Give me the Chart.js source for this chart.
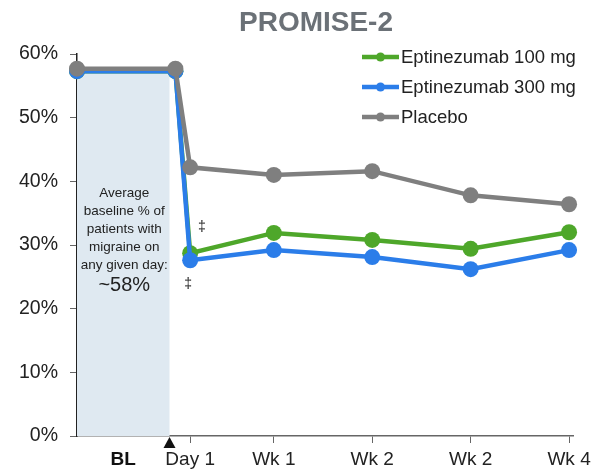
<!DOCTYPE html>
<html>
<head>
<meta charset="utf-8">
<script src="https://cdn.jsdelivr.net/npm/chart.js@4"></script>
<style>
  body { margin: 0; background: #fff; }
  #wrap { width: 603px; height: 471px; }
</style>
</head>
<body>
<div id="wrap"><canvas id="chart" width="603" height="471"></canvas></div>
<script>
// timepoints: two baseline points then the post-dose visits
const timepoints = ['BL', 'BL', 'Day 1', 'Wk 1', 'Wk 2', 'Wk 2', 'Wk 4'];
const xPositions = [0, 1, 1.15, 2, 3, 4, 5];
const eptinezumab100 = [57.3, 57.3, 28.7, 31.9, 30.8, 29.4, 32.0];
const eptinezumab300 = [57.3, 57.3, 27.6, 29.2, 28.1, 26.2, 29.2];
const placebo = [57.7, 57.7, 42.2, 41.0, 41.6, 37.8, 36.4];
const yTicks = [0, 10, 20, 30, 40, 50, 60];
const baselineNote = ['Average', 'baseline % of', 'patients with', 'migraine on', 'any given day:'];
const baselineValue = '~58%';

const FONT = '"Liberation Sans", Arial, sans-serif';
const GREEN = '#4ea72a';
const BLUE = '#2b7de9';
const GRAY = '#7f7f7f';

const toPoints = arr => arr.map((v, i) => ({ x: xPositions[i], y: v }));

// extras: shaded baseline band, notes, markers, title, legend
const extras = {
  id: 'extras',
  beforeDatasetsDraw(chart) {
    const { ctx, scales: { x, y } } = chart;
    const x0 = x.getPixelForValue(0), x1 = x.getPixelForValue(0.94);
    const yTop = y.getPixelForValue(57.3), yBot = y.getPixelForValue(0);
    ctx.save();
    ctx.fillStyle = '#dfe9f1';
    ctx.fillRect(x0, yTop, x1 - x0, yBot - yTop);

    ctx.fillStyle = '#222';
    ctx.textAlign = 'center';
    ctx.textBaseline = 'middle';
    const cx = (x0 + x1) / 2 + 1;
    ctx.font = '13.5px ' + FONT;
    baselineNote.forEach((t, i) => ctx.fillText(t, cx, 193 + i * 18));
    ctx.font = '20px ' + FONT;
    ctx.fillText(baselineValue, cx, 285);
    ctx.restore();
  },
  afterDraw(chart) {
    const { ctx, scales: { x, y } } = chart;
    ctx.save();
    // significance marks
    ctx.fillStyle = '#222';
    ctx.font = '14px ' + FONT;
    ctx.textAlign = 'center';
    ctx.textBaseline = 'middle';
    ctx.fillText('\u2021', x.getPixelForValue(1.27), y.getPixelForValue(32.8));
    ctx.fillText('\u2021', x.getPixelForValue(1.13), y.getPixelForValue(23.8));

    // BL label and dosing triangle
    const yb = y.getPixelForValue(0);
    ctx.font = 'bold 19px ' + FONT;
    ctx.fillStyle = '#111';
    ctx.fillText(timepoints[0], (x.getPixelForValue(0) + x.getPixelForValue(0.94)) / 2, 460);
    const tx = x.getPixelForValue(0.94);
    ctx.beginPath();
    ctx.moveTo(tx, yb + 1);
    ctx.lineTo(tx - 6, yb + 12);
    ctx.lineTo(tx + 6, yb + 12);
    ctx.closePath();
    ctx.fill();

    // title
    ctx.fillStyle = '#6b7177';
    ctx.font = 'bold 28px ' + FONT;
    ctx.fillText('PROMISE-2', 316, 23);

    // legend
    ctx.textAlign = 'left';
    ctx.font = '18.5px ' + FONT;
    chart.data.datasets.forEach((ds, i) => {
      const ly = 57 + i * 30;
      ctx.strokeStyle = ds.borderColor;
      ctx.fillStyle = ds.borderColor;
      ctx.lineWidth = 4.5;
      ctx.beginPath();
      ctx.moveTo(362, ly);
      ctx.lineTo(399, ly);
      ctx.stroke();
      ctx.beginPath();
      ctx.arc(380.5, ly, 4.5, 0, Math.PI * 2);
      ctx.fill();
      ctx.fillStyle = '#222';
      ctx.fillText(ds.label, 401, ly + 1);
    });
    ctx.restore();
  }
};

const makeSet = (label, data, color, order) => ({
  label,
  data: toPoints(data),
  borderColor: color,
  backgroundColor: color,
  borderWidth: 4.5,
  pointRadius: 8,
  pointBorderWidth: 0,
  pointHoverRadius: 8,
  tension: 0,
  clip: false,
  order
});

new Chart(document.getElementById('chart'), {
  type: 'line',
  data: {
    datasets: [
      makeSet('Eptinezumab 100 mg', eptinezumab100, GREEN, 2),
      makeSet('Eptinezumab 300 mg', eptinezumab300, BLUE, 1),
      makeSet('Placebo', placebo, GRAY, 0)
    ]
  },
  options: {
    responsive: false,
    animation: false,
    layout: { padding: { top: 54, right: 30, bottom: 0, left: 0 } },
    plugins: { legend: { display: false }, tooltip: { enabled: false } },
    scales: {
      x: {
        type: 'linear',
        min: 0,
        max: 5.04,
        afterFit(scale) { scale.height = 35; },
        afterBuildTicks(scale) {
          scale.ticks = xPositions.slice(2).map(v => ({ value: v }));
        },
        grid: { drawOnChartArea: false, drawTicks: true, tickLength: 7, color: '#666' },
        border: { color: '#666', width: 1.5 },
        ticks: {
          autoSkip: false,
          maxRotation: 0,
          padding: 5,
          color: '#222',
          font: { family: FONT, size: 19 },
          callback: (v, i) => timepoints[i + 2]
        }
      },
      y: {
        min: 0,
        max: 60,
        afterFit(scale) { scale.width = 77; },
        afterBuildTicks(scale) {
          scale.ticks = yTicks.map(v => ({ value: v }));
        },
        grid: { drawOnChartArea: false, drawTicks: true, tickLength: 7, color: '#666' },
        border: { color: '#222', width: 1.5 },
        ticks: {
          padding: 12,
          color: '#222',
          font: { family: FONT, size: 19.5 },
          callback: v => v + '%'
        }
      }
    }
  },
  plugins: [extras]
});
</script>
</body>
</html>
